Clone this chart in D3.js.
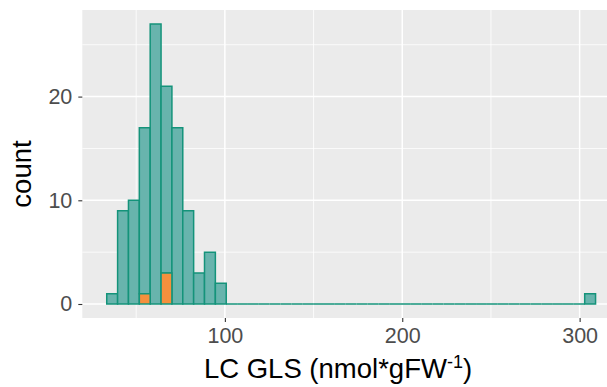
<!DOCTYPE html>
<html>
<head>
<meta charset="utf-8">
<script src="https://cdn.jsdelivr.net/npm/d3@7"></script>
<style>
  html, body { margin: 0; padding: 0; background: #ffffff; }
  svg { display: block; font-family: "Liberation Sans", Arial, sans-serif; }
</style>
</head>
<body>
<svg id="chart" width="607" height="387"></svg>
<script>
// ---- data ----
const binStart = 33.4;      // left edge of first bin (nmol*gFW-1)
const binWidth = 6.124;     // width of each bin
// total counts per bin (45 bins)
const totalCounts = [1, 9, 10, 17, 27, 21, 17, 9, 3, 5, 2,
  0, 0, 0, 0, 0, 0, 0, 0, 0, 0, 0, 0, 0, 0, 0, 0, 0, 0, 0, 0, 0, 0,
  0, 0, 0, 0, 0, 0, 0, 0, 0, 0, 0, 1];
// orange-group counts per bin (stacked at bottom)
const orangeCounts = [0, 0, 0, 1, 0, 3, 0, 0, 0, 0, 0,
  0, 0, 0, 0, 0, 0, 0, 0, 0, 0, 0, 0, 0, 0, 0, 0, 0, 0, 0, 0, 0, 0,
  0, 0, 0, 0, 0, 0, 0, 0, 0, 0, 0, 0];
const xTicks = [100, 200, 300];
const xMinor = [50, 150, 250];
const yTicks = [0, 10, 20];
const yMinor = [5, 15, 25];

// ---- layout ----
const panel = { left: 82.3, right: 620, top: 10, bottom: 318 };
const svg = d3.select("#chart");

const bins = totalCounts.map((t, i) => ({
  x0: binStart + i * binWidth,
  x1: binStart + (i + 1) * binWidth,
  total: t,
  orange: orangeCounts[i]
}));

const xMin = bins[0].x0, xMax = bins[bins.length - 1].x1;
const xPad = (xMax - xMin) * 0.05;
const x = d3.scaleLinear().domain([xMin - xPad, xMax + xPad]).range([panel.left, panel.right]);
const yMaxV = d3.max(totalCounts);
const yPad = yMaxV * 0.05;
const y = d3.scaleLinear().domain([-yPad, yMaxV + yPad]).range([panel.bottom, panel.top]);

// panel background
svg.append("rect")
  .attr("x", panel.left).attr("y", panel.top)
  .attr("width", panel.right - panel.left).attr("height", panel.bottom - panel.top)
  .attr("fill", "#EBEBEB");

const grid = svg.append("g");
// minor grid
grid.selectAll(".ymin").data(yMinor).enter().append("line")
  .attr("x1", panel.left).attr("x2", panel.right)
  .attr("y1", d => y(d)).attr("y2", d => y(d))
  .attr("stroke", "#ffffff").attr("stroke-width", 0.8);
grid.selectAll(".xmin").data(xMinor).enter().append("line")
  .attr("y1", panel.top).attr("y2", panel.bottom)
  .attr("x1", d => x(d)).attr("x2", d => x(d))
  .attr("stroke", "#ffffff").attr("stroke-width", 0.8);
// major grid
grid.selectAll(".ymaj").data(yTicks).enter().append("line")
  .attr("x1", panel.left).attr("x2", panel.right)
  .attr("y1", d => y(d)).attr("y2", d => y(d))
  .attr("stroke", "#ffffff").attr("stroke-width", 1.5);
grid.selectAll(".xmaj").data(xTicks).enter().append("line")
  .attr("y1", panel.top).attr("y2", panel.bottom)
  .attr("x1", d => x(d)).attr("x2", d => x(d))
  .attr("stroke", "#ffffff").attr("stroke-width", 1.5);

// bars (paths so zero-height bins still draw their outline)
const strokeCol = "#14937A";
function barPath(x0, x1, v0, v1) {
  return `M${x(x0)},${y(v0)}H${x(x1)}V${y(v1)}H${x(x0)}Z`;
}
const barsG = svg.append("g");
barsG.selectAll(".teal").data(bins).enter().append("path")
  .attr("d", d => barPath(d.x0, d.x1, d.orange, d.total))
  .attr("fill", "#68B4AD")
  .attr("stroke", strokeCol).attr("stroke-width", 1.5)
  .attr("stroke-linejoin", "miter");
barsG.selectAll(".orange").data(bins.filter(d => d.orange > 0)).enter().append("path")
  .attr("d", d => barPath(d.x0, d.x1, 0, d.orange))
  .attr("fill", "#F5903D")
  .attr("stroke", strokeCol).attr("stroke-width", 1.5);

// axes
const tickCol = "#333333", labCol = "#4D4D4D";
const xAxis = d3.axisBottom(x).tickValues(xTicks).tickSize(4).tickPadding(6);
const gx = svg.append("g").attr("transform", `translate(0,${panel.bottom})`).call(xAxis);
gx.select(".domain").remove();
gx.selectAll("line").attr("stroke", tickCol).attr("stroke-width", 1.1);
gx.selectAll("text").attr("fill", labCol).attr("font-size", 21.5)
  .attr("font-family", "'Liberation Sans', Arial, sans-serif");

const yAxis = d3.axisLeft(y).tickValues(yTicks).tickSize(4).tickPadding(6);
const gy = svg.append("g").attr("transform", `translate(${panel.left},0)`).call(yAxis);
gy.select(".domain").remove();
gy.selectAll("line").attr("stroke", tickCol).attr("stroke-width", 1.1);
gy.selectAll("text").attr("fill", labCol).attr("font-size", 21.5)
  .attr("font-family", "'Liberation Sans', Arial, sans-serif");

// axis titles
const xt = svg.append("text")
  .attr("x", 338).attr("y", 378)
  .attr("text-anchor", "middle")
  .attr("font-size", 27.5).attr("fill", "#000000");
xt.append("tspan").text("LC GLS (nmol*gFW");
xt.append("tspan").attr("font-size", 18).attr("dy", -10).text("-1");
xt.append("tspan").attr("dy", 10).text(")");

svg.append("text")
  .attr("transform", `translate(31,174) rotate(-90)`)
  .attr("text-anchor", "middle")
  .attr("font-size", 27.5).attr("fill", "#000000")
  .text("count");
</script>
</body>
</html>
